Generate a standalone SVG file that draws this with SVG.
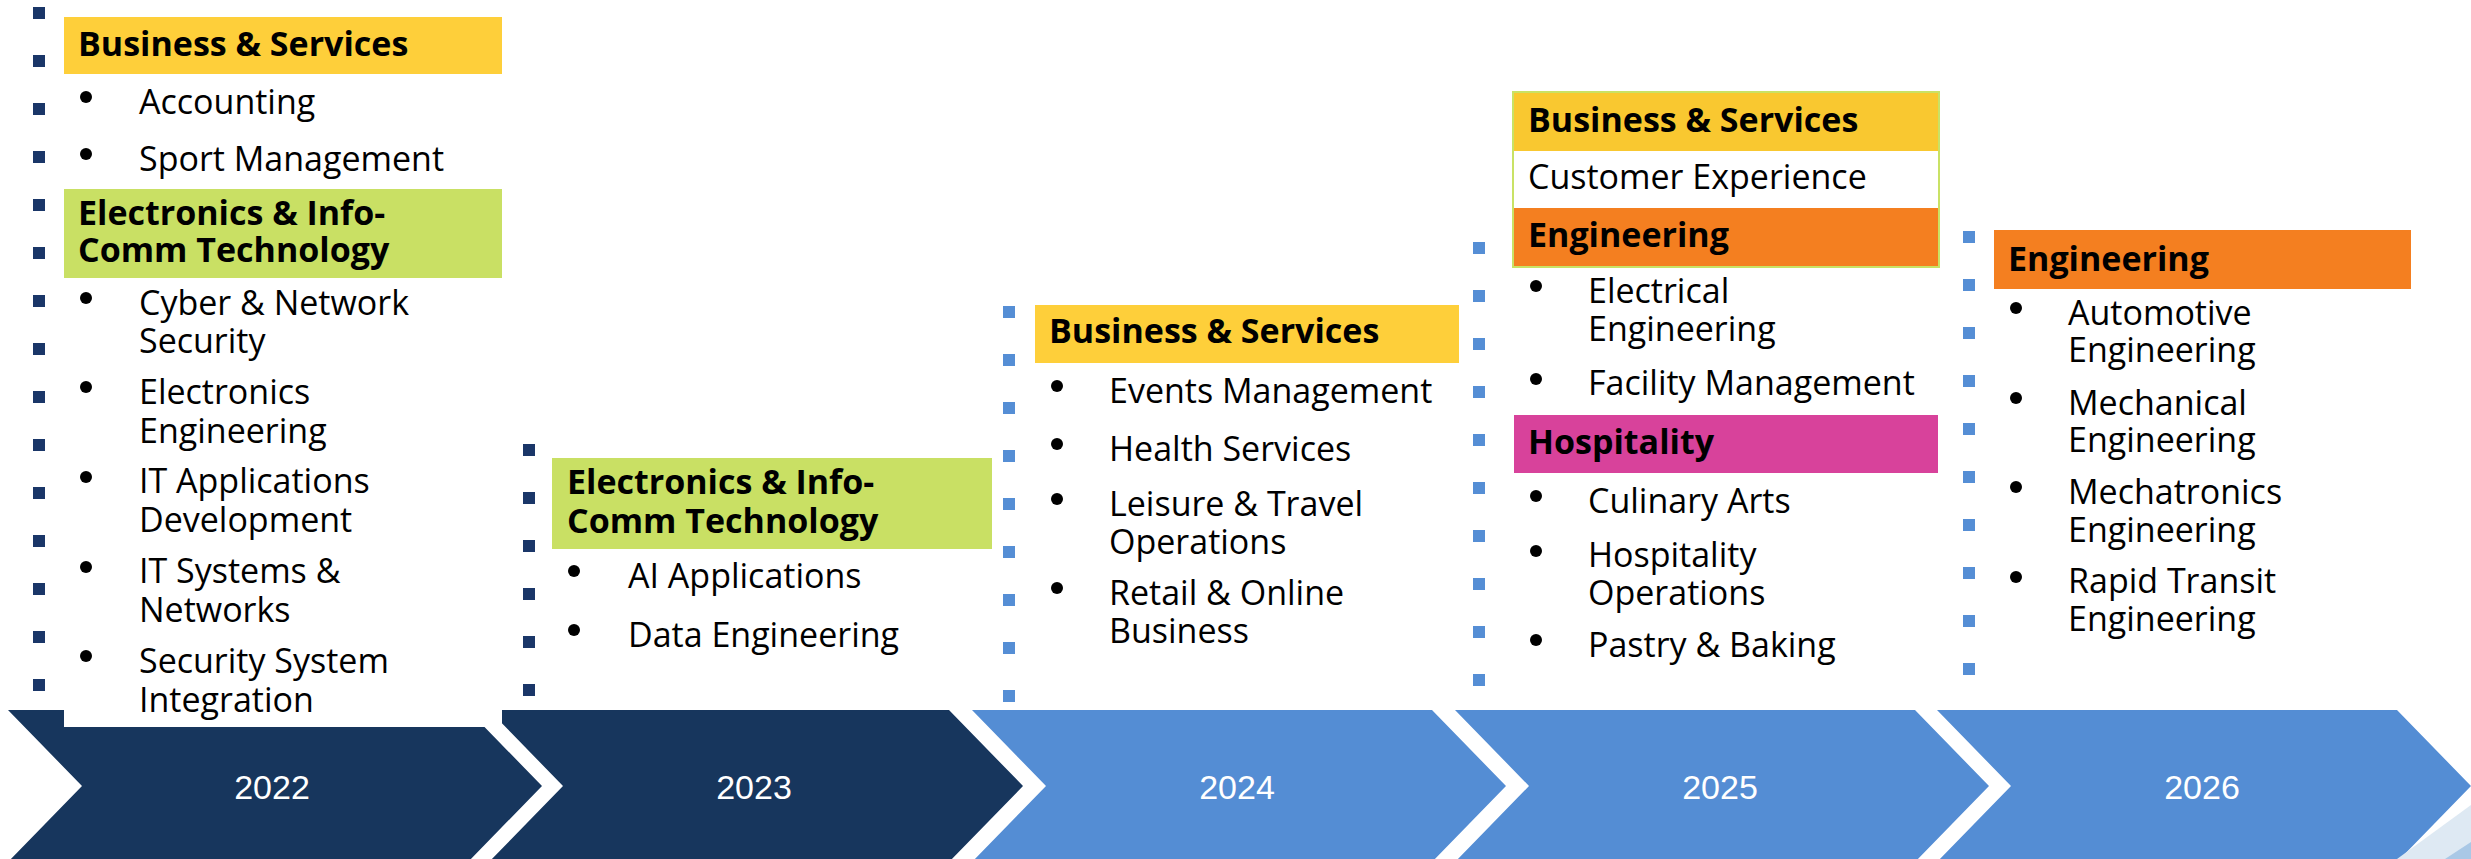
<svg xmlns="http://www.w3.org/2000/svg" width="2471" height="859" viewBox="0 0 2471 859">
<style>
.h{font-family:"Open Sans","Noto Sans",sans-serif;font-weight:700;font-size:34px;fill:#000}
.t{font-family:"Open Sans","Noto Sans",sans-serif;font-weight:400;font-size:34px;fill:#000}
.yr{font-family:"Liberation Sans",Arial,sans-serif;font-size:34px;fill:#fff;text-anchor:middle}
.navy{fill:#17365D}
.blue{fill:#548DD4}
.dn{stroke:#1A3668;stroke-width:12;stroke-dasharray:12 36;fill:none}
.db{stroke:#558ED5;stroke-width:12;stroke-dasharray:12 36;fill:none}
.yel{fill:#FECF3A}
.grn{fill:#C9E064}
.org{fill:#F47F20}
.mag{fill:#D8429B}
.b{fill:#000}
</style>
<rect width="2471" height="859" fill="#fff"/>
<g id="timeline">
<polygon class="navy" points="8,710 468,710 542,786 468,862 8,862 82,786"/>
<polygon class="navy" points="489,710 949,710 1023,786 949,862 489,862 563,786"/>
<polygon class="blue" points="972,710 1432,710 1506,786 1432,862 972,862 1046,786"/>
<polygon class="blue" points="1455,710 1915,710 1989,786 1915,862 1455,862 1529,786"/>
<polygon class="blue" points="1937,710 2397,710 2471,786 2397,862 1937,862 2011,786"/>
<polygon fill="#DEE9F3" points="2397,859 2471,805 2471,859"/>
<polygon fill="#A9C8E6" points="2445,859 2471,842 2471,859"/>
</g>
<g id="connectors">
<line class="dn" x1="39" y1="7" x2="39" y2="691"/>
<line class="dn" x1="529" y1="444" x2="529" y2="696"/>
<line class="db" x1="1009" y1="306" x2="1009" y2="702"/>
<line class="db" x1="1479" y1="242" x2="1479" y2="686"/>
<line class="db" x1="1969" y1="231" x2="1969" y2="675"/>
</g>
<g id="panel-2022">
<rect x="64" y="17" width="438" height="710" fill="#fff"/>
<rect class="yel" x="64" y="17" width="438" height="57"/>
<text class="h" x="78" y="56">Business &amp; Services</text>
<circle class="b" cx="86" cy="97" r="6"/><text class="t" x="139" y="114">Accounting</text>
<circle class="b" cx="86" cy="154" r="6"/><text class="t" x="139" y="171">Sport Management</text>
<rect class="grn" x="64" y="189" width="438" height="89"/>
<text class="h"><tspan x="78" y="225">Electronics &amp; Info-</tspan><tspan x="78" y="262">Comm Technology</tspan></text>
<circle class="b" cx="86" cy="298" r="6"/><text class="t"><tspan x="139" y="315">Cyber &amp; Network</tspan><tspan x="139" y="353">Security</tspan></text>
<circle class="b" cx="86" cy="387" r="6"/><text class="t"><tspan x="139" y="404">Electronics</tspan><tspan x="139" y="443">Engineering</tspan></text>
<circle class="b" cx="86" cy="477" r="6"/><text class="t"><tspan x="139" y="493">IT Applications</tspan><tspan x="139" y="532">Development</tspan></text>
<circle class="b" cx="86" cy="567" r="6"/><text class="t"><tspan x="139" y="583">IT Systems &amp;</tspan><tspan x="139" y="622">Networks</tspan></text>
<circle class="b" cx="86" cy="656" r="6"/><text class="t"><tspan x="139" y="673">Security System</tspan><tspan x="139" y="712">Integration</tspan></text>
<text class="yr" x="272" y="799">2022</text>
</g>
<g id="panel-2023">
<rect class="grn" x="552" y="458" width="440" height="91"/>
<text class="h"><tspan x="567" y="494">Electronics &amp; Info-</tspan><tspan x="567" y="533">Comm Technology</tspan></text>
<circle class="b" cx="574" cy="571" r="6"/><text class="t" x="628" y="588">AI Applications</text>
<circle class="b" cx="574" cy="630" r="6"/><text class="t" x="628" y="647">Data Engineering</text>
<text class="yr" x="754" y="799">2023</text>
</g>
<g id="panel-2024">
<rect class="yel" x="1035" y="305" width="424" height="58"/>
<text class="h" x="1049" y="343">Business &amp; Services</text>
<circle class="b" cx="1057" cy="386" r="6"/><text class="t" x="1109" y="403">Events Management</text>
<circle class="b" cx="1057" cy="444" r="6"/><text class="t" x="1109" y="461">Health Services</text>
<circle class="b" cx="1057" cy="499" r="6"/><text class="t"><tspan x="1109" y="516">Leisure &amp; Travel</tspan><tspan x="1109" y="554">Operations</tspan></text>
<circle class="b" cx="1057" cy="588" r="6"/><text class="t"><tspan x="1109" y="605">Retail &amp; Online</tspan><tspan x="1109" y="643">Business</tspan></text>
<text class="yr" x="1237" y="799">2024</text>
</g>
<g id="panel-2025">
<rect x="1514" y="93" width="424" height="58" fill="#F9C830"/>
<rect x="1514" y="151" width="424" height="57" fill="#fff"/>
<rect class="org" x="1514" y="208" width="424" height="58"/>
<rect x="1513" y="92" width="426" height="175" fill="none" stroke="#C9E265" stroke-width="2"/>
<text class="h" x="1528" y="132">Business &amp; Services</text>
<text class="t" x="1528" y="189">Customer Experience</text>
<text class="h" x="1528" y="247">Engineering</text>
<circle class="b" cx="1536" cy="286" r="6"/><text class="t"><tspan x="1588" y="303">Electrical</tspan><tspan x="1588" y="341">Engineering</tspan></text>
<circle class="b" cx="1536" cy="379" r="6"/><text class="t" x="1588" y="395">Facility Management</text>
<rect class="mag" x="1514" y="415" width="424" height="58"/>
<text class="h" x="1528" y="454">Hospitality</text>
<circle class="b" cx="1536" cy="496" r="6"/><text class="t" x="1588" y="513">Culinary Arts</text>
<circle class="b" cx="1536" cy="551" r="6"/><text class="t"><tspan x="1588" y="567">Hospitality</tspan><tspan x="1588" y="605">Operations</tspan></text>
<circle class="b" cx="1536" cy="640" r="6"/><text class="t" x="1588" y="657">Pastry &amp; Baking</text>
<text class="yr" x="1720" y="799">2025</text>
</g>
<g id="panel-2026">
<rect class="org" x="1994" y="230" width="417" height="59"/>
<text class="h" x="2008" y="271">Engineering</text>
<circle class="b" cx="2016" cy="308" r="6"/><text class="t"><tspan x="2068" y="325">Automotive</tspan><tspan x="2068" y="362">Engineering</tspan></text>
<circle class="b" cx="2016" cy="398" r="6"/><text class="t"><tspan x="2068" y="415">Mechanical</tspan><tspan x="2068" y="452">Engineering</tspan></text>
<circle class="b" cx="2016" cy="487" r="6"/><text class="t"><tspan x="2068" y="504">Mechatronics</tspan><tspan x="2068" y="542">Engineering</tspan></text>
<circle class="b" cx="2016" cy="577" r="6"/><text class="t"><tspan x="2068" y="593">Rapid Transit</tspan><tspan x="2068" y="631">Engineering</tspan></text>
<text class="yr" x="2202" y="799">2026</text>
</g>
</svg>
